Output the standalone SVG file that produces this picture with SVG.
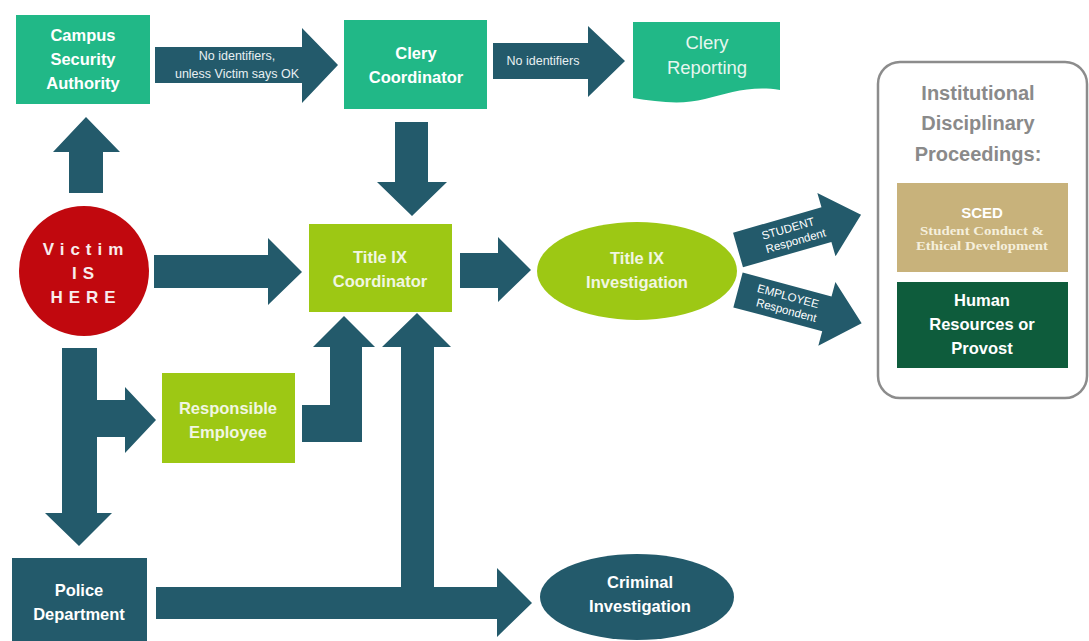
<svg xmlns="http://www.w3.org/2000/svg" width="1089" height="641" viewBox="0 0 1089 641">
<style>
.teal{fill:#21b887}
.lime{fill:#9dc814}
.dark{fill:#235a6b}
.lbl{font-family:"Liberation Sans",Arial,sans-serif;font-weight:bold;font-size:16.5px;fill:#ffffff;text-anchor:middle}
.lbl-l{font-family:"Liberation Sans",Arial,sans-serif;font-weight:bold;font-size:16.5px;fill:#f1f6e2;text-anchor:middle}
.small{font-family:"Liberation Sans",Arial,sans-serif;font-size:12.5px;fill:#e8f0f2;text-anchor:middle}
.diag{font-family:"Liberation Sans",Arial,sans-serif;font-size:11.5px;fill:#ffffff;text-anchor:middle}
.sub{font-family:"Liberation Serif","Times New Roman",serif;font-weight:bold;font-size:12px;fill:#f5efdc;text-anchor:middle}
</style>
<rect width="1089" height="641" fill="#ffffff"/>

<g id="connectors" class="dark">
  <!-- CSA -> Clery Coordinator -->
  <polygon points="155,47 302,47 302,28 338,65 302,103 302,83 155,83"/>
  <!-- Clery Coordinator -> Clery Reporting -->
  <polygon points="493,43 588,43 588,26 625,61 588,97 588,79 493,79"/>
  <!-- Clery Coordinator -> Title IX Coordinator -->
  <polygon points="395,122 428,122 428,182 447,182 412,216 377,182 395,182"/>
  <!-- Victim -> CSA -->
  <polygon points="69,193 69,152 53,152 86,117 120,152 103,152 103,193"/>
  <!-- Victim -> Title IX Coordinator -->
  <polygon points="154,255 268,255 268,238 302,272 268,305 268,288 154,288"/>
  <!-- Victim -> Responsible Employee / Police -->
  <polygon points="62,348 97,348 97,400 125,400 125,387 156,420 125,453 125,437 97,437 97,513 112,513 79,546 45,513 62,513"/>
  <!-- Responsible Employee -> Title IX Coordinator -->
  <polygon points="302,405 330,405 330,347 313,347 344,316 375,347 362,347 362,442 302,442"/>
  <!-- Police -> Title IX Coordinator -->
  <polygon points="401,600 401,347 382,347 417,313 451,347 434,347 434,600"/>
  <!-- Police -> Criminal Investigation -->
  <polygon points="156,587 497,587 497,568 532,603 497,637 497,619 156,619"/>
  <!-- Title IX Coordinator -> Title IX Investigation -->
  <polygon points="460,253 498,253 498,237 531,270 498,302 498,288 460,288"/>
  <!-- STUDENT Respondent -->
  <g transform="translate(738,250) rotate(-16)">
    <polygon points="0,-18 92,-18 92,-33 128,0 92,33 92,18 0,18"/>
    <text class="diag" x="54" y="-3">STUDENT</text>
    <text class="diag" x="58" y="11">Respondent</text>
  </g>
  <!-- EMPLOYEE Respondent -->
  <g transform="translate(738,290) rotate(15)">
    <polygon points="0,-18 92,-18 92,-33 128,0 92,33 92,18 0,18"/>
    <text class="diag" x="50" y="-3">EMPLOYEE</text>
    <text class="diag" x="52" y="11">Respondent</text>
  </g>
  <text class="small" x="237" y="60">No identifiers,</text>
  <text class="small" x="237" y="78">unless Victim says OK</text>
  <text class="small" x="543" y="65">No identifiers</text>
</g>

<g id="csa">
  <rect class="teal" x="16" y="15" width="134" height="89"/>
  <text class="lbl" x="83" y="41">Campus</text>
  <text class="lbl" x="83" y="65">Security</text>
  <text class="lbl" x="83" y="89">Authority</text>
</g>

<g id="clery-coordinator">
  <rect class="teal" x="344" y="20" width="143" height="89"/>
  <text class="lbl" x="416" y="59">Clery</text>
  <text class="lbl" x="416" y="83">Coordinator</text>
</g>

<g id="clery-reporting">
  <path class="teal" d="M633,22 H780 V90 C752,85 728,93 705,99 C682,105 658,102 633,98 Z"/>
  <text x="707" y="49" style="font-family:'Liberation Sans',Arial,sans-serif;font-size:18.5px;fill:#e6f6ef;text-anchor:middle">Clery</text>
  <text x="707" y="74" style="font-family:'Liberation Sans',Arial,sans-serif;font-size:18.5px;fill:#e6f6ef;text-anchor:middle">Reporting</text>
</g>

<g id="victim">
  <circle cx="84" cy="271" r="65" fill="#c1080e"/>
  <g style="font-family:'Liberation Sans',Arial,sans-serif;font-weight:bold;font-size:17px;fill:#f8ecec;text-anchor:middle;letter-spacing:6px">
    <text x="86" y="255">Victim</text>
    <text x="86" y="279">IS</text>
    <text x="86" y="303">HERE</text>
  </g>
</g>

<g id="title-ix-coordinator">
  <rect class="lime" x="309" y="224" width="143" height="88"/>
  <text class="lbl-l" x="380" y="263">Title IX</text>
  <text class="lbl-l" x="380" y="287">Coordinator</text>
</g>

<g id="title-ix-investigation">
  <ellipse class="lime" cx="637" cy="271" rx="100" ry="49"/>
  <text class="lbl-l" x="637" y="264">Title IX</text>
  <text class="lbl-l" x="637" y="288">Investigation</text>
</g>

<g id="responsible-employee">
  <rect class="lime" x="162" y="373" width="133" height="90"/>
  <text class="lbl-l" x="228" y="414">Responsible</text>
  <text class="lbl-l" x="228" y="438">Employee</text>
</g>

<g id="police-department">
  <rect class="dark" x="12" y="558" width="135" height="90"/>
  <text class="lbl" x="79" y="596">Police</text>
  <text class="lbl" x="79" y="620">Department</text>
</g>

<g id="criminal-investigation">
  <ellipse class="dark" cx="637" cy="597" rx="97" ry="43"/>
  <text class="lbl" x="640" y="588">Criminal</text>
  <text class="lbl" x="640" y="612">Investigation</text>
</g>

<g id="institutional-disciplinary-proceedings">
  <rect x="878" y="62" width="209" height="336" rx="22" ry="22" fill="#ffffff" stroke="#8c8c8c" stroke-width="2.5"/>
  <g style="font-family:'Liberation Sans',Arial,sans-serif;font-weight:bold;font-size:20px;fill:#8a8a8a;text-anchor:middle">
    <text x="978" y="100">Institutional</text>
    <text x="978" y="130">Disciplinary</text>
    <text x="978" y="161">Proceedings:</text>
  </g>
</g>

<g id="sced">
  <rect x="897" y="183" width="171" height="89" fill="#c8b27b"/>
  <text x="982" y="218" style="font-family:'Liberation Sans',Arial,sans-serif;font-weight:bold;font-size:15px;fill:#ffffff;text-anchor:middle">SCED</text>
  <text class="sub" x="982" y="235" textLength="124" lengthAdjust="spacingAndGlyphs">Student Conduct &amp;</text>
  <text class="sub" x="982" y="250" textLength="132" lengthAdjust="spacingAndGlyphs">Ethical Development</text>
</g>

<g id="human-resources">
  <rect x="897" y="282" width="171" height="86" fill="#0e5c3c"/>
  <text class="lbl" x="982" y="306">Human</text>
  <text class="lbl" x="982" y="330">Resources or</text>
  <text class="lbl" x="982" y="354">Provost</text>
</g>
</svg>
